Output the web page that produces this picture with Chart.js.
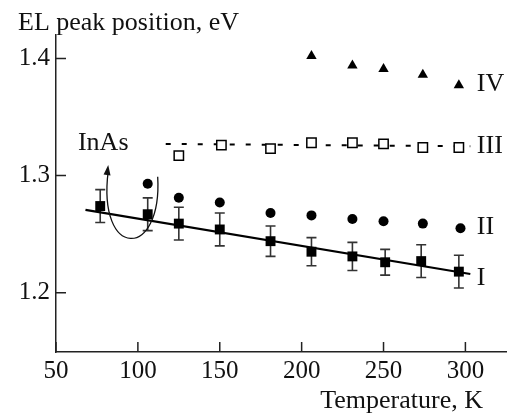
<!DOCTYPE html>
<html><head><meta charset="utf-8">
<script src="https://cdn.jsdelivr.net/npm/chart.js@4.4.1/dist/chart.umd.min.js"></script>
<style>html,body{margin:0;padding:0;background:#fff}</style>
</head><body>
<canvas id="c" width="507" height="416"></canvas>
<script>
const xTicks = [50, 100, 150, 200, 250, 300];
const yTicks = [1.2, 1.3, 1.4];

const tempI = [77, 106, 125, 150, 181, 206, 231, 251, 273, 296];
const peakI = [1.274, 1.267, 1.259, 1.254, 1.244, 1.235, 1.231, 1.226, 1.227, 1.218];
const errI  = [0.014, 0.014, 0.014, 0.014, 0.013, 0.012, 0.012, 0.011, 0.014, 0.014];
const fitTempI = [68, 303];
const fitPeakI = [1.2707, 1.216];

const tempII = [106, 125, 150, 181, 206, 231, 250, 274, 297];
const peakII = [1.293, 1.281, 1.277, 1.268, 1.266, 1.263, 1.261, 1.259, 1.255];

const tempIII = [125, 151, 181, 206, 231, 250, 274, 296];
const peakIII = [1.317, 1.326, 1.323, 1.328, 1.328, 1.327, 1.324, 1.324];
const fitTempIII = [117, 303];
const fitPeakIII = [1.327, 1.325];

const tempIV = [206, 231, 250, 274, 296];
const peakIV = [1.402, 1.394, 1.391, 1.386, 1.377];

const seriesLabels = ['IV', 'III', 'II', 'I'];
const seriesLabelY = [1.378, 1.3248, 1.2556, 1.212];
const seriesLabelX = 307;

const pts = (xs, ys) => xs.map((x, i) => ({x: x, y: ys[i]}));
const FONT = "'Liberation Serif', 'Times New Roman', serif";
const INK = '#111';

const extras = {
  id: 'extras',
  beforeDatasetsDraw(chart) {
    const ctx = chart.ctx, xs = chart.scales.x, ys = chart.scales.y;
    ctx.save();
    ctx.strokeStyle = '#333';
    ctx.lineWidth = 1.6;
    tempI.forEach((t, i) => {
      const px = xs.getPixelForValue(t);
      const top = ys.getPixelForValue(peakI[i] + errI[i]);
      const bot = ys.getPixelForValue(peakI[i] - errI[i]);
      ctx.beginPath();
      ctx.moveTo(px, top); ctx.lineTo(px, bot);
      ctx.moveTo(px - 5, top); ctx.lineTo(px + 5, top);
      ctx.moveTo(px - 5, bot); ctx.lineTo(px + 5, bot);
      ctx.stroke();
    });
    ctx.restore();
  },
  afterDraw(chart) {
    const ctx = chart.ctx, xs = chart.scales.x, ys = chart.scales.y, a = chart.chartArea;
    ctx.save();
    // inward ticks
    ctx.strokeStyle = '#222';
    ctx.lineWidth = 1.5;
    ctx.beginPath();
    xTicks.forEach(v => {
      const px = xs.getPixelForValue(v);
      ctx.moveTo(px, a.bottom); ctx.lineTo(px, a.bottom - 10);
    });
    yTicks.forEach(v => {
      const py = ys.getPixelForValue(v);
      ctx.moveTo(a.left, py); ctx.lineTo(a.left + 10, py);
    });
    ctx.stroke();

    // series labels
    ctx.fillStyle = INK;
    ctx.font = '26px ' + FONT;
    ctx.textBaseline = 'middle';
    ctx.textAlign = 'left';
    seriesLabels.forEach((s, i) => {
      ctx.fillText(s, xs.getPixelForValue(seriesLabelX), ys.getPixelForValue(seriesLabelY[i]));
    });
    // InAs annotation
    ctx.fillText('InAs', xs.getPixelForValue(63.4), ys.getPixelForValue(1.3277));
    const p0 = [xs.getPixelForValue(112.1), ys.getPixelForValue(1.299)];
    const c1 = [xs.getPixelForValue(115), ys.getPixelForValue(1.228)];
    const c2 = [xs.getPixelForValue(75), ys.getPixelForValue(1.228)];
    const p3 = [xs.getPixelForValue(81.9), ys.getPixelForValue(1.309)];
    ctx.strokeStyle = '#111';
    ctx.lineWidth = 1.3;
    ctx.beginPath();
    ctx.moveTo(p0[0], p0[1]);
    ctx.bezierCurveTo(c1[0], c1[1], c2[0], c2[1], p3[0], p3[1] + 6);
    ctx.stroke();
    const ang = Math.atan2(p3[1] - c2[1], p3[0] - c2[0]);
    ctx.fillStyle = '#111';
    ctx.beginPath();
    ctx.moveTo(p3[0], p3[1]);
    ctx.lineTo(p3[0] - 10 * Math.cos(ang) + 3.5 * Math.sin(ang), p3[1] - 10 * Math.sin(ang) - 3.5 * Math.cos(ang));
    ctx.lineTo(p3[0] - 10 * Math.cos(ang) - 3.5 * Math.sin(ang), p3[1] - 10 * Math.sin(ang) + 3.5 * Math.cos(ang));
    ctx.closePath();
    ctx.fill();

    // axis titles
    ctx.fillStyle = INK;
    ctx.textBaseline = 'alphabetic';
    ctx.textAlign = 'left';
    ctx.fillText('EL peak position, eV', 18, 30);
    ctx.textAlign = 'right';
    ctx.fillText('Temperature, K', 483, 408);
    ctx.restore();
  }
};

new Chart(document.getElementById('c'), {
  type: 'scatter',
  data: {
    datasets: [
      {label: 'I', data: pts(tempI, peakI), pointStyle: 'rect', pointRadius: 7,
       backgroundColor: '#000', borderColor: '#000', borderWidth: 0, order: 1},
      {label: 'II', data: pts(tempII, peakII), pointStyle: 'circle', pointRadius: 5,
       backgroundColor: '#000', borderColor: '#000', borderWidth: 0, order: 1},
      {label: 'III', data: pts(tempIII, peakIII), pointStyle: 'rect', pointRadius: 6.6,
       backgroundColor: '#fff', borderColor: '#000', borderWidth: 1.5, order: 1},
      {label: 'IV', data: pts(tempIV, peakIV), pointStyle: 'triangle', pointRadius: 6,
       backgroundColor: '#000', borderColor: '#000', borderWidth: 0, order: 1},
      {label: 'fit I', data: pts(fitTempI, fitPeakI), showLine: true, pointRadius: 0,
       borderColor: '#000', borderWidth: 2.2, order: 2},
      {label: 'fit III', data: pts(fitTempIII, fitPeakIII), showLine: true, pointRadius: 0,
       borderColor: '#000', borderWidth: 2, borderDash: [5, 11], order: 2}
    ]
  },
  options: {
    responsive: false,
    animation: false,
    devicePixelRatio: 1,
    layout: {autoPadding: false, padding: {top: 35, right: 0, left: 0, bottom: 0}},
    plugins: {legend: {display: false}, tooltip: {enabled: false}, title: {display: false}},
    scales: {
      x: {
        type: 'linear', min: 50, max: 325.4,
        afterBuildTicks: s => { s.ticks = xTicks.map(v => ({value: v})); },
        afterFit: s => { s.height = 64; s.paddingLeft = 0; s.paddingRight = 0; },
        grid: {display: true, drawOnChartArea: false, drawTicks: false},
        border: {display: true, color: '#222', width: 1.5},
        ticks: {font: {family: FONT, size: 25}, color: INK, padding: 4, maxRotation: 0, autoSkip: false,
                callback: v => String(v)}
      },
      y: {
        type: 'linear', min: 1.1494, max: 1.42,
        afterBuildTicks: s => { s.ticks = yTicks.map(v => ({value: v})); },
        afterFit: s => { s.width = 56; s.paddingTop = 0; s.paddingBottom = 0; },
        grid: {display: true, drawOnChartArea: false, drawTicks: false},
        border: {display: true, color: '#222', width: 1.5},
        ticks: {font: {family: FONT, size: 25}, color: INK, padding: 6, autoSkip: false,
                callback: v => v.toFixed(1)}
      }
    }
  },
  plugins: [extras]
});
</script>
</body></html>
